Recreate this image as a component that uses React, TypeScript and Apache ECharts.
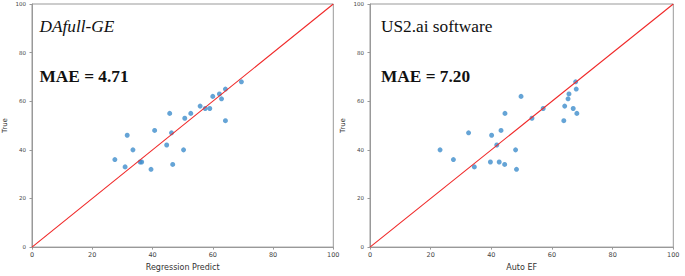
import React, { useEffect, useRef } from "react";
import * as echarts from "echarts";

const ticks = [0, 20, 40, 60, 80, 100];
const leftPred = [69.5, 64.2, 62.2, 60.0, 62.9, 55.8, 57.5, 59.0, 52.7, 45.7, 50.7, 64.2, 40.7, 46.3, 31.6, 44.7, 33.5, 50.3, 27.5, 30.9, 35.9, 36.4, 39.5, 46.7];
const leftTrue = [68, 65, 63, 62, 61, 58, 57, 57, 55, 55, 53, 52, 48, 47, 46, 42, 40, 40, 36, 33, 35, 35, 32, 34];
const rightAuto = [67.8, 68.0, 65.6, 65.3, 49.8, 64.2, 67.0, 57.1, 68.2, 44.5, 53.4, 63.9, 43.2, 32.5, 40.1, 41.8, 23.1, 48.0, 27.5, 34.4, 39.7, 42.6, 44.4, 48.3];
const rightTrue = [68, 65, 63, 61, 62, 58, 57, 57, 55, 55, 53, 52, 48, 47, 46, 42, 40, 40, 36, 33, 35, 35, 34, 32];
const identity = [[0, 0], [100, 100]];
const titles = ["DAfull-GE", "US2.ai software"];
const maes = ["MAE = 4.71", "MAE = 7.20"];
const xNames = ["Regression Predict", "Auto EF"];
const yName = "True";

export default function App() {
  const ref = useRef<HTMLDivElement>(null);
  useEffect(() => {
    document.body.style.margin = "0";
    const chart = echarts.init(ref.current!, null, { renderer: "svg" });
    const grids = [
      { left: 30, top: 4, width: 303.3, height: 248 },
      { left: 370, top: 4, width: 303.3, height: 248 },
    ];
    const mkX = (i: number) => ({
      type: "value",
      gridIndex: i,
      min: ticks[0],
      max: ticks[ticks.length - 1],
      interval: 20,
      name: xNames[i],
      nameLocation: "middle",
      nameGap: 12,
      nameTextStyle: { fontFamily: "DejaVu Sans", fontSize: 8, color: "#333" },
      axisLine: { show: true, lineStyle: { color: "#999", width: 1 } },
      axisTick: { show: true, length: 2.5, lineStyle: { color: "#999" } },
      axisLabel: { fontFamily: "DejaVu Sans", fontSize: 6.5, color: "#444", margin: 4 },
      splitLine: { show: false },
    });
    const mkY = (i: number) => ({
      type: "value",
      gridIndex: i,
      min: ticks[0],
      max: ticks[ticks.length - 1],
      interval: 20,
      name: yName,
      nameLocation: "middle",
      nameGap: 24,
      nameTextStyle: { fontFamily: "DejaVu Sans", fontSize: 7, color: "#333" },
      axisLine: { show: true, lineStyle: { color: "#999", width: 1 } },
      axisTick: { show: true, length: 2.5, lineStyle: { color: "#999" } },
      axisLabel: { fontFamily: "DejaVu Sans", fontSize: 5.5, color: "#444", margin: 6 },
      splitLine: { show: false },
    });
    const scatterStyle = { color: "#3f8dcc" };
    const lineStyle = { color: "#f02828", width: 1.1 };
    const pair = (xs: number[], ys: number[]) => xs.map((x, k) => [x, ys[k]]);
    const textEls: any[] = [];
    [39.5, 381].forEach((x, i) => {
      textEls.push({
        type: "text",
        x,
        y: 26,
        style: {
          text: titles[i],
          font: (i === 0 ? "italic " : "") + "17.3px 'Liberation Serif'",
          fill: "#111",
          verticalAlign: "middle",
        },
      });
      textEls.push({
        type: "text",
        x,
        y: 76,
        style: {
          text: maes[i],
          font: "bold 17.3px 'Liberation Serif'",
          fill: "#111",
          verticalAlign: "middle",
        },
      });
    });
    chart.setOption({
      animation: false,
      grid: grids.map((g) => ({ ...g, show: true, borderColor: "#999", borderWidth: 1, backgroundColor: "transparent" })),
      xAxis: [mkX(0), mkX(1)],
      yAxis: [mkY(0), mkY(1)],
      series: [
        { type: "line", xAxisIndex: 0, yAxisIndex: 0, data: identity, symbol: "none", lineStyle, z: 3 },
        { type: "line", xAxisIndex: 1, yAxisIndex: 1, data: identity, symbol: "none", lineStyle, z: 3 },
        { type: "scatter", xAxisIndex: 0, yAxisIndex: 0, data: pair(leftPred, leftTrue), symbolSize: 5, itemStyle: scatterStyle, z: 2 },
        { type: "scatter", xAxisIndex: 1, yAxisIndex: 1, data: pair(rightAuto, rightTrue), symbolSize: 5, itemStyle: scatterStyle, z: 2 },
      ],
      graphic: textEls,
    });
    return () => chart.dispose();
  }, []);
  return <div ref={ref} style={{ width: 685, height: 276 }} />;
}
